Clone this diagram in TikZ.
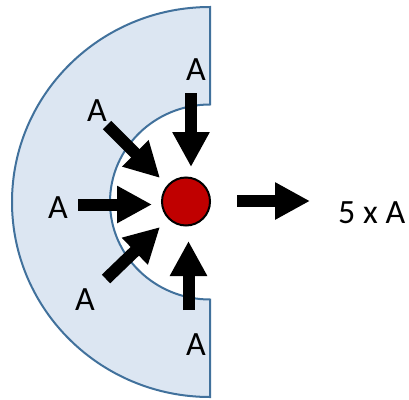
\documentclass[tikz,border=0pt]{standalone}
\usepackage{fontspec}
\setmainfont{Carlito}
\usetikzlibrary{arrows.meta}
\definecolor{ringfill}{HTML}{DCE6F2}
\definecolor{ringdraw}{HTML}{41719C}
\definecolor{dotred}{HTML}{C00000}
\tikzset{
  bigarrow/.style={line width=12pt, -{Triangle[width=35pt,length=35pt]}},
  lbl/.style={inner sep=0pt, font=\fontsize{34}{40}\selectfont}
}
\begin{document}
\begin{tikzpicture}[x=1pt,y=-1pt]
\useasboundingbox (0,0) rectangle (409,399);
% ring sector
\draw[fill=ringfill, draw=ringdraw, line width=2pt]
  (210,7) arc[start angle=270, end angle=90, x radius=198, y radius=195]
  -- (210,299.5) arc[start angle=90, end angle=270, x radius=100, y radius=97.5]
  -- cycle;
% center dot
\node[circle, fill=dotred, draw=black, line width=2pt, minimum size=48pt, inner sep=0pt] (c) at (186,201.5) {};
% labels
\node[lbl] (at) at (196,70) {A};
\node[lbl] (aul) at (97,111) {A};
\node[lbl] (al) at (58,208) {A};
\node[lbl] (all) at (85,300) {A};
\node[lbl] (ab) at (196,345) {A};
\node[lbl, anchor=west] (out) at (338,213) {5 x A};
% arrow coordinates
\coordinate (t1) at (191,93);   \coordinate (t2) at (191,167);
\coordinate (u1) at (107,125);  \coordinate (u2) at (160,178);
\coordinate (l1) at (78,204.5); \coordinate (l2) at (152,204.5);
\coordinate (d1) at (106,279);  \coordinate (d2) at (160,227);
\coordinate (b1) at (188.5,310);\coordinate (b2) at (188.5,241);
\coordinate (r1) at (237,201);  \coordinate (r2) at (310,201);
\draw[bigarrow] (t1) -- (t2);
\draw[bigarrow] (u1) -- (u2);
\draw[bigarrow] (l1) -- (l2);
\draw[bigarrow] (d1) -- (d2);
\draw[bigarrow] (b1) -- (b2);
\draw[bigarrow] (r1) -- (r2);
\end{tikzpicture}
\end{document}
